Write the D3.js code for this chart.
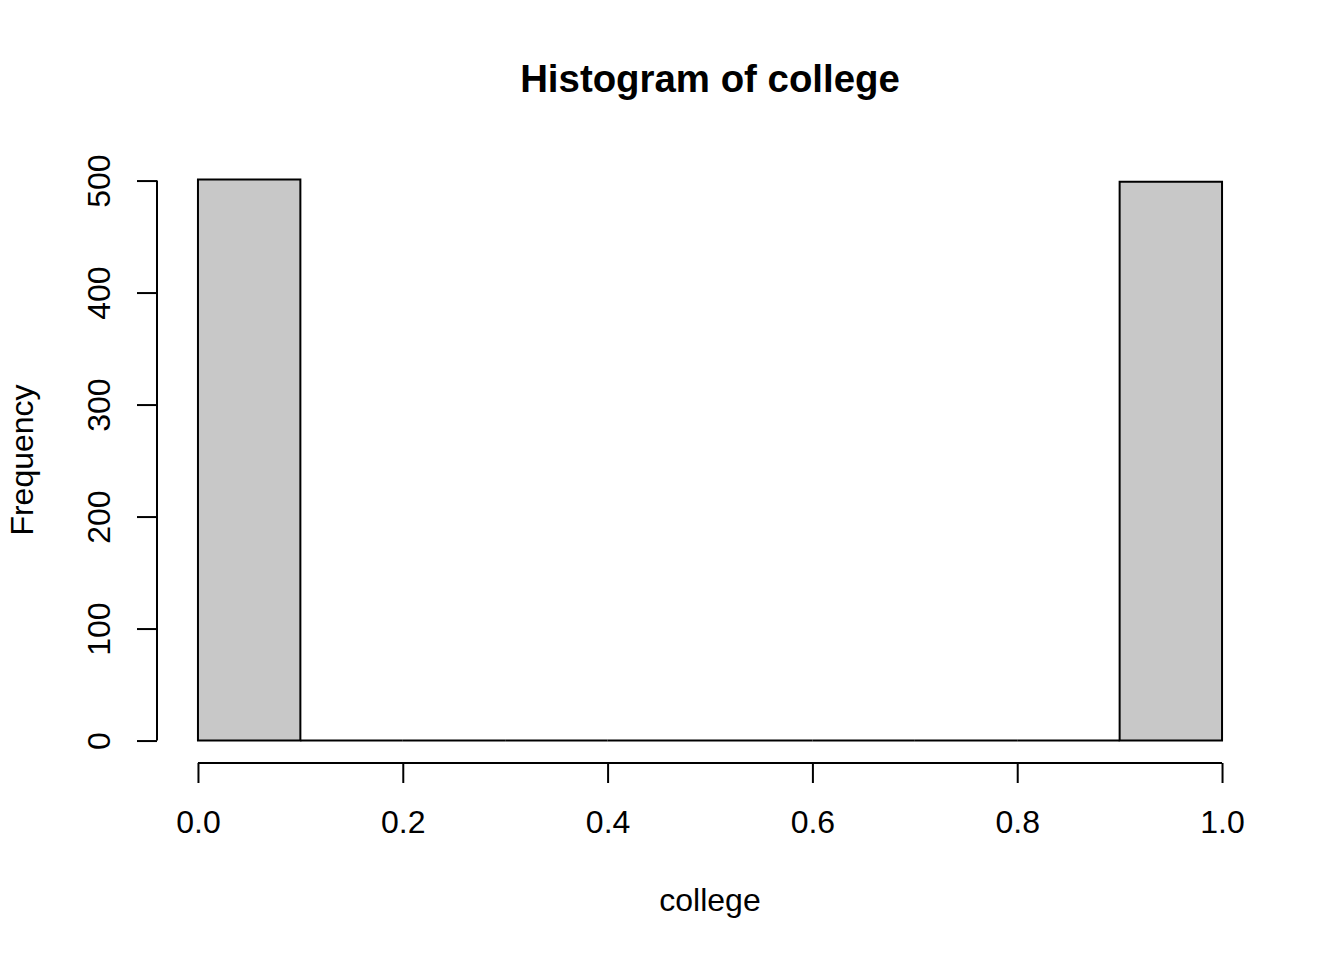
<!DOCTYPE html>
<html>
<head>
<meta charset="utf-8">
<script src="https://cdn.jsdelivr.net/npm/d3@7"></script>
<style>
  body { margin: 0; background: #fff; }
  text { font-family: "Liberation Sans", Arial, Helvetica, sans-serif; fill: #000; }
</style>
</head>
<body>
<div id="app"></div>
<script>
// histogram of college: bin edges and counts
const breaks = [0, 0.1, 0.2, 0.3, 0.4, 0.5, 0.6, 0.7, 0.8, 0.9, 1.0]
const counts = [501, 0, 0, 0, 0, 0, 0, 0, 0, 499]
const xTicks = [0, 0.2, 0.4, 0.6, 0.8, 1.0]
const yTicks = [0, 100, 200, 300, 400, 500]
const title = "Histogram of college"
const xLabel = "college"
const yLabel = "Frequency"

const width = 1344, height = 960
const fontSize = 32

var svg = d3.select("#app").append("svg").attr("width", width).attr("height", height)

// R pads the axis ranges by 4% on each side
const xMin = breaks[0], xMax = breaks[breaks.length - 1]
const yMax = d3.max(counts)
const xPad = (xMax - xMin) * 0.04, yPad = yMax * 0.04
const plot = {left: 157, right: 1263, top: 157, bottom: 763}

const x = d3.scaleLinear().domain([xMin - xPad, xMax + xPad]).range([plot.left, plot.right])
const y = d3.scaleLinear().domain([-yPad, yMax + yPad]).range([plot.bottom, plot.top])

const bins = counts.map((c, i) => ({x0: breaks[i], x1: breaks[i + 1], count: c}))

// bars as paths so empty bins still show as a line on the baseline
svg.append("g").selectAll("path").data(bins).join("path")
  .attr("d", d => `M${x(d.x0)},${y(0)}V${y(d.count)}H${x(d.x1)}V${y(0)}Z`)
  .style("fill", "#c8c8c8")
  .style("stroke", "#000")
  .style("stroke-width", 2)

// y axis
const yAxis = svg.append("g").attr("transform", `translate(${plot.left},0)`)
  .call(d3.axisLeft(y).tickValues(yTicks).tickSize(20).tickSizeOuter(0).tickFormat(d3.format("d")))
yAxis.select(".domain").remove()
yAxis.append("line")
  .attr("y1", y(yTicks[0])).attr("y2", y(yTicks[yTicks.length - 1]))
  .style("stroke", "#000").style("stroke-width", 2)
yAxis.selectAll(".tick line").style("stroke", "#000").style("stroke-width", 2)
yAxis.selectAll(".tick text")
  .attr("x", null).attr("dy", null)
  .attr("transform", "translate(-47,0) rotate(-90)")
  .attr("text-anchor", "middle")
  .style("font-size", fontSize + "px")
  .style("font-family", null)

// x axis
const xAxis = svg.append("g").attr("transform", `translate(0,${plot.bottom})`)
  .call(d3.axisBottom(x).tickValues(xTicks).tickSize(20).tickSizeOuter(0).tickFormat(d3.format(".1f")))
xAxis.select(".domain").remove()
xAxis.append("line")
  .attr("x1", x(xTicks[0])).attr("x2", x(xTicks[xTicks.length - 1]))
  .style("stroke", "#000").style("stroke-width", 2)
xAxis.selectAll(".tick line").style("stroke", "#000").style("stroke-width", 2)
xAxis.selectAll(".tick text")
  .attr("y", 70).attr("dy", null)
  .attr("text-anchor", "middle")
  .style("font-size", fontSize + "px")
  .style("font-family", null)
svg.selectAll(".tick text").attr("fill", "#000")

// titles
const midX = (plot.left + plot.right) / 2
svg.append("text").attr("x", midX).attr("y", 92)
  .attr("text-anchor", "middle")
  .style("font-size", (fontSize * 1.2) + "px").style("font-weight", "bold")
  .text(title)

svg.append("text").attr("x", midX).attr("y", 911)
  .attr("text-anchor", "middle")
  .style("font-size", fontSize + "px")
  .text(xLabel)

svg.append("text")
  .attr("transform", `translate(33,${(plot.top + plot.bottom) / 2}) rotate(-90)`)
  .attr("text-anchor", "middle")
  .style("font-size", fontSize + "px")
  .text(yLabel)
</script>
</body>
</html>
